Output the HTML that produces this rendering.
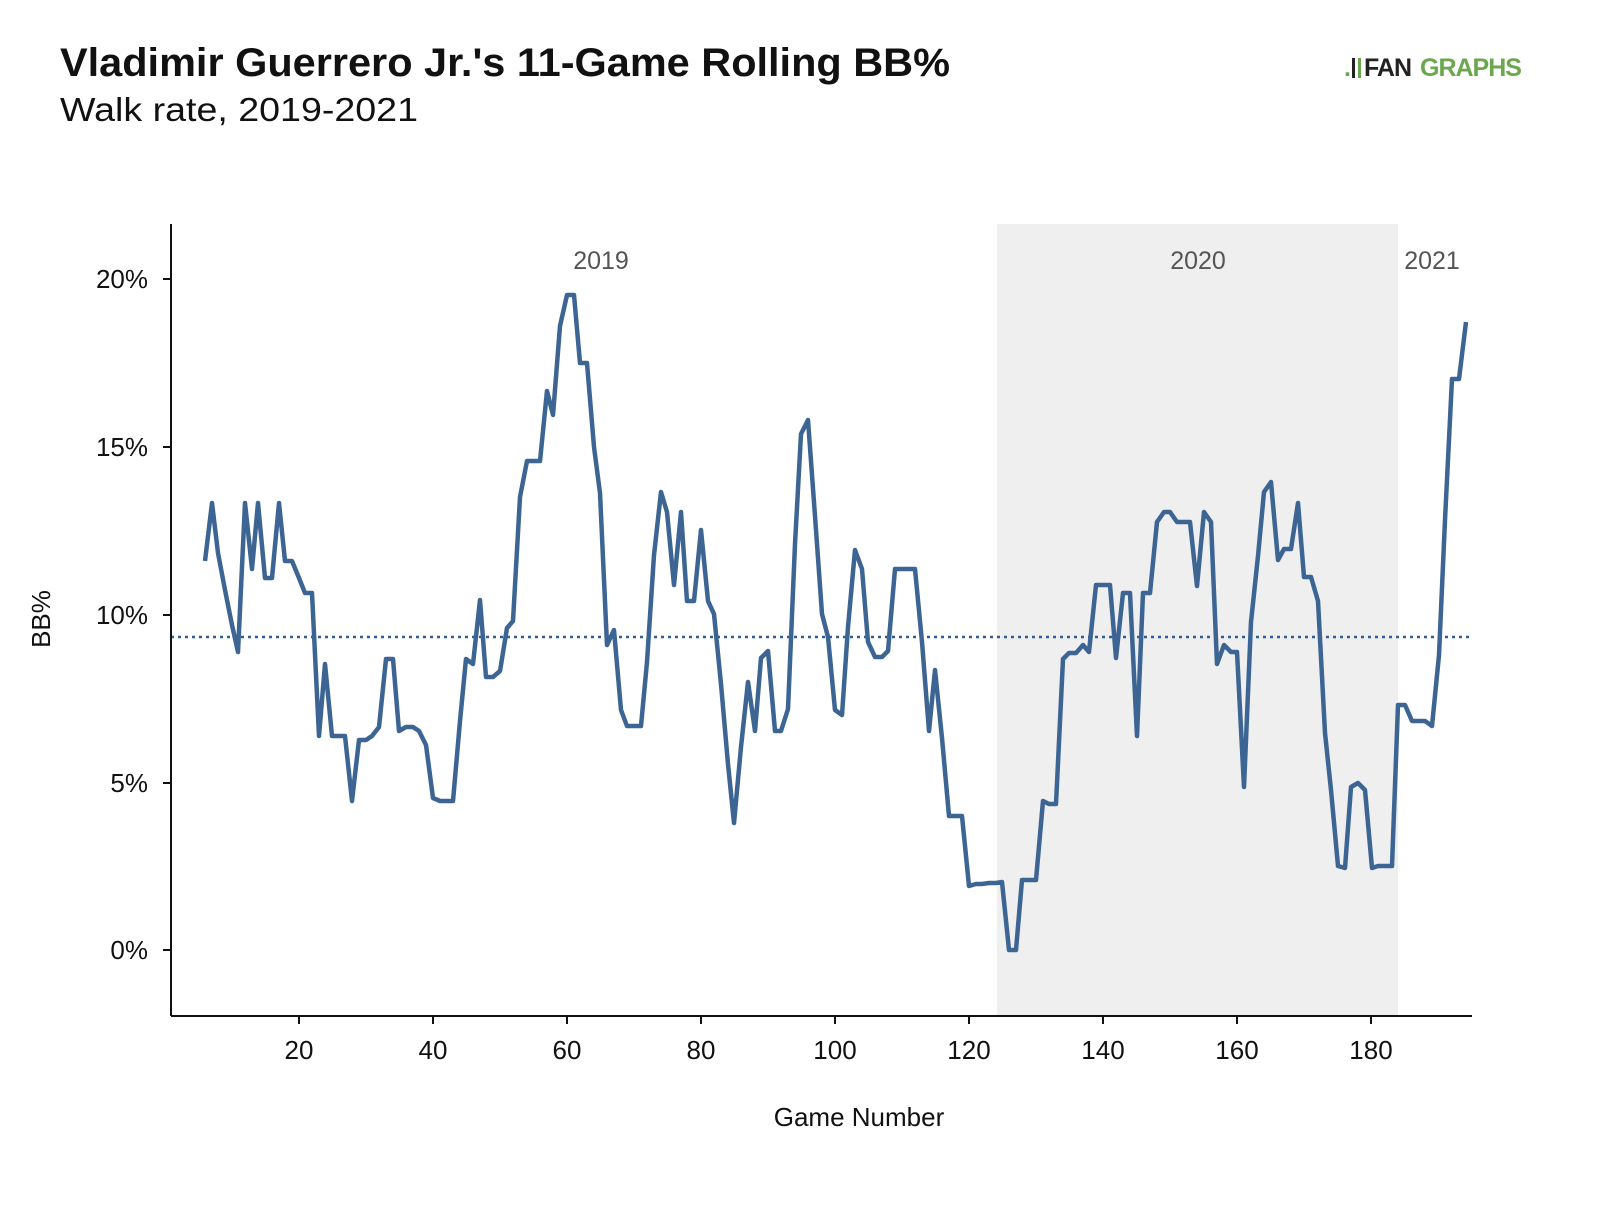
<!DOCTYPE html>
<html><head><meta charset="utf-8"><style>
body{margin:0;background:#fff;}
svg text{font-family:"Liberation Sans",sans-serif;}
</style></head><body>
<svg width="1600" height="1202" viewBox="0 0 1600 1202" xmlns="http://www.w3.org/2000/svg">
<rect width="1600" height="1202" fill="#fff"/>
<text x="60" y="76" font-size="40" font-weight="bold" fill="#111" textLength="890" lengthAdjust="spacingAndGlyphs">Vladimir Guerrero Jr.'s 11-Game Rolling BB%</text>
<text x="60" y="121" font-size="33" fill="#111" textLength="358" lengthAdjust="spacingAndGlyphs">Walk rate, 2019-2021</text>
<g font-size="25" font-weight="bold">
<text x="1344" y="76" fill="#6aa84f">.</text>
<rect x="1352" y="58" width="3" height="20" fill="#222"/>
<rect x="1358" y="58" width="3" height="20" fill="#6aa84f"/>
<text x="1364" y="76" fill="#222" letter-spacing="-1">FAN</text>
<text x="1420" y="76" fill="#6aa84f" letter-spacing="-1">GRAPHS</text>
</g>
<rect x="997" y="224" width="401" height="792" fill="#efefef"/>
<text x="601" y="269" font-size="25" fill="#555" text-anchor="middle">2019</text>
<text x="1198" y="269" font-size="25" fill="#555" text-anchor="middle">2020</text>
<text x="1432" y="269" font-size="25" fill="#555" text-anchor="middle">2021</text>
<line x1="171" y1="637" x2="1472" y2="637" stroke="#2f5f94" stroke-width="2.5" stroke-dasharray="3,4"/>
<g stroke="#111" stroke-width="2">
<line x1="171" y1="224" x2="171" y2="1016"/>
<line x1="171" y1="1016" x2="1472" y2="1016"/>
<line x1="163" y1="279" x2="171" y2="279"/><line x1="163" y1="447" x2="171" y2="447"/><line x1="163" y1="615" x2="171" y2="615"/><line x1="163" y1="783" x2="171" y2="783"/><line x1="163" y1="950" x2="171" y2="950"/>
<line x1="299" y1="1016" x2="299" y2="1024"/><line x1="433" y1="1016" x2="433" y2="1024"/><line x1="567" y1="1016" x2="567" y2="1024"/><line x1="701" y1="1016" x2="701" y2="1024"/><line x1="835" y1="1016" x2="835" y2="1024"/><line x1="969" y1="1016" x2="969" y2="1024"/><line x1="1103" y1="1016" x2="1103" y2="1024"/><line x1="1237" y1="1016" x2="1237" y2="1024"/><line x1="1371" y1="1016" x2="1371" y2="1024"/>
</g>
<g font-size="26" fill="#111" text-anchor="end">
<text x="148" y="288">20%</text><text x="148" y="456">15%</text><text x="148" y="624">10%</text><text x="148" y="792">5%</text><text x="148" y="959">0%</text>
</g>
<g font-size="26" fill="#111" text-anchor="middle">
<text x="299" y="1059">20</text><text x="433" y="1059">40</text><text x="567" y="1059">60</text><text x="701" y="1059">80</text><text x="835" y="1059">100</text><text x="969" y="1059">120</text><text x="1103" y="1059">140</text><text x="1237" y="1059">160</text><text x="1371" y="1059">180</text>
<text x="859" y="1126">Game Number</text>
</g>
<text transform="translate(50,619) rotate(-90)" font-size="26" fill="#111" text-anchor="middle">BB%</text>
<polyline fill="none" stroke="#3d6594" stroke-width="4.5" stroke-linejoin="round" points="205,561 212,503 218,553 225,590 232,625 238,652 245,503 252,569 258,503 265,578 272,578 279,503 285,561 292,561 299,578 305,593 312,593 319,736 325,664 332,736 339,736 345,736 352,801 359,740 366,740 372,736 379,727 386,659 393,659 399,731 406,727 413,727 419,731 426,745 433,798 440,801 446,801 453,801 460,721 466,659 473,664 480,600 486,677 493,677 500,671 507,628 513,621 520,497 527,461 533,461 540,461 547,391 553,415 560,326 567,295 574,295 580,363 587,363 594,447 600,493 607,645 614,630 621,710 627,726 634,726 641,726 647,662 654,555 661,492 667,512 674,585 681,512 687,601 694,601 701,530 708,601 714,614 721,684 728,764 734,823 741,747 748,682 755,731 761,658 768,651 775,731 781,731 788,709 795,544 801,434 808,420 815,516 822,614 828,637 835,710 842,715 848,627 855,550 862,569 868,642 875,657 882,657 888,651 895,569 902,569 909,569 915,569 922,642 929,731 935,670 942,738 949,816 955,816 962,816 969,886 976,884 982,884 989,883 996,883 1002,882 1009,950 1016,950 1022,880 1029,880 1036,880 1043,801 1049,804 1056,804 1063,659 1069,653 1076,653 1083,645 1089,652 1096,585 1103,585 1110,585 1116,658 1123,593 1130,593 1137,736 1143,593 1150,593 1157,522 1164,512 1170,512 1177,522 1184,522 1190,522 1197,586 1204,512 1211,522 1217,664 1224,645 1231,652 1237,652 1244,787 1251,622 1258,556 1264,492 1271,482 1278,560 1284,549 1291,549 1298,503 1304,577 1311,577 1318,601 1325,733 1331,790 1338,866 1345,868 1351,787 1358,783 1365,790 1372,868 1378,866 1385,866 1392,866 1398,705 1405,705 1412,721 1418,721 1425,721 1432,726 1439,655 1445,520 1452,379 1459,379 1466,322"/>
</svg>
</body></html>
